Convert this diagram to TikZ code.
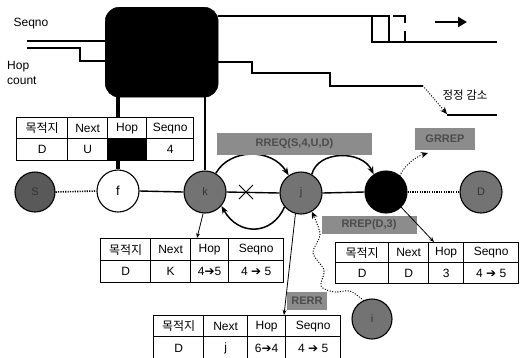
\documentclass[tikz,border=0pt]{standalone}
\usepackage{fontspec}
\setmainfont{Liberation Sans}
\newfontfamily\krfont{Noto Sans CJK KR}
\newfontfamily\djfont{DejaVu Sans}
\usetikzlibrary{arrows.meta}
\newcommand\harr{{\djfont\char"2794}}
\begin{document}
\begin{tikzpicture}[x=1pt,y=-1pt,
  sig/.style={line width=1.3pt},
  vline/.style={line width=3.2pt},
  mainl/.style={line width=1.4pt},
  dotl/.style={line width=1.6pt, dash pattern=on 1.2pt off 1.2pt},
  dots/.style={line width=1.4pt, line cap=round, dash pattern=on 0pt off 2.6pt},
  thinarr/.style={line width=0.8pt, -{Stealth[length=5pt,width=4pt]}},
  arcl/.style={line width=1.5pt, -{Stealth[length=8pt,width=6pt]}},
  cell/.style={draw, line width=1.3pt, anchor=north west, inner sep=0pt,
    minimum height=21pt, font=\fontsize{12}{13}\selectfont},
  gnode/.style={circle, draw, line width=1.1pt, fill=black!55, minimum size=42pt,
    inner sep=0pt, text=black!80, font=\fontsize{11}{12}\selectfont},
  gbox/.style={fill=black!45, text=black!70, inner sep=0pt,
    font=\bfseries\fontsize{11}{12}\selectfont},
  txt/.style={inner sep=0pt, font=\fontsize{12}{13}\selectfont}
]
\useasboundingbox (0,0) rectangle (521,357);
\clip (0,0) rectangle (521,357);

% texts on the left
\node[txt] (tseq) at (31,24) {Seqno};
\node[txt, anchor=west] (thop) at (7,67) {Hop};
\node[txt, anchor=west] (tcnt) at (7,81) {count};

% big black box
\node[draw, fill=black, rounded corners=14pt, minimum width=113pt, minimum height=90pt,
  anchor=north west, inner sep=0pt] (box) at (105,7) {};

% input signals
\coordinate (sq0) at (27,41);
\draw[sig] (sq0) -- (sq0 -| box.west);
\coordinate (hp0) at (27,48);
\coordinate (hp1) at (80,61);
\draw[sig] (hp0) -- (80,48) -- (hp1) -- (hp1 -| box.west);

% output seqno signal with pulse
\coordinate (sq1) at (389,16);
\draw[sig] (sq1 -| box.east) -- (sq1) -- (389,42);
\draw[sig] (372,16) -- (372,42) -- (497,42);
\draw[sig] (393,16) -- (405,16) -- (405,23);
\draw[sig] (405,31) -- (405,42);
\coordinate (ar0) at (435,22);
\coordinate (ar1) at (467,22);
\draw[line width=2.4pt, -{Triangle[length=9pt,width=10pt]}] (ar0) -- (ar1);

% output hop signal
\coordinate (hr0) at (252,62);
\coordinate (hr1) at (423,86);
\coordinate (hr2) at (447,114);
\coordinate (hr3) at (497,115);
\draw[sig] (hr0 -| box.east) -- (hr0) -- (252,73) -- (330,73) -- (330,86) -- (hr1);
\draw[dots, -{Stealth[length=7pt,width=6pt]}] (hr1) -- (hr2);
\draw[sig] (447,115) -- (hr3);
\node[txt, font=\krfont\fontsize{11.5}{13}\selectfont] (tdec) at (465,95) {정정 감소};

% table 1
\node[cell, minimum width=51pt] (t1a) at (16,117) {\krfont 목적지};
\node[cell, minimum width=40pt] (t1b) at (67,117) {Next};
\node[cell, minimum width=39pt] (t1c) at (107,117) {Hop};
\node[cell, minimum width=47pt] (t1d) at (146,117) {Seqno};
\node[cell, minimum width=51pt, minimum height=22pt] (t1e) at (16,138) {D};
\node[cell, minimum width=40pt, minimum height=22pt] (t1f) at (67,138) {U};
\node[cell, minimum width=39pt, minimum height=22pt, fill=black] (t1g) at (107,138) {};
\node[cell, minimum width=47pt, minimum height=22pt] (t1h) at (146,138) {4};

% nodes
\node[gnode, fill=black!65, minimum size=40pt] (S) at (35,192) {S};
\node[gnode, fill=white, text=black, font=\fontsize{13}{14}\selectfont] (f) at (118,191) {f};
\node[gnode] (k) at (205,192) {k};
\node[gnode] (j) at (301,193) {j};
\node[gnode, fill=black, text=black] (blk) at (386,192) {};
\node[gnode] (D) at (481,192) {D};
\node[gnode, minimum size=40pt] (i) at (372,319) {i};

% verticals from box
\draw[vline] (box.south -| f.north) -- (t1c.north -| f.north);
\draw[vline] (t1g.south -| f.north) -- (f.north);
\draw[line width=2.6pt] (box.south -| k.north) -- (k.north);

% main line
\draw[dotl] (S.east) -- (f.west);
\draw[mainl] (f.east) -- (k.west);
\draw[mainl] (k.east) -- (j.west);
\draw[mainl] (j.east) -- (blk.west);
\draw[dotl] (blk.east) -- (D.west);
\coordinate (xm) at (246,192);
\draw[line width=1pt] ([shift={(-7,-7)}]xm) -- ([shift={(7,7)}]xm);
\draw[line width=1pt] ([shift={(-7,7)}]xm) -- ([shift={(7,-7)}]xm);

% arcs
\draw[arcl] (k.60) .. controls (230,148) and (272,148) .. (j.125);
\draw[arcl] (j.60) .. controls (318,150) and (362,150) .. (blk.125);
\draw[arcl] (j.220) .. controls (272,236) and (238,236) .. (k.320);

% gray labels
\node[gbox, minimum width=155pt, minimum height=22pt] (rreq) at (294.5,144) {RREQ(S,4,U,D)};
\node[gbox, minimum width=60pt, minimum height=22pt] (grrep) at (445,139) {GRREP};
\node[gbox, minimum width=95pt, minimum height=18pt] (rrep) at (369,225) {RREP(D,3)};
\node[gbox, minimum width=40pt, minimum height=18pt] (rerr) at (307,301) {RERR};

% K table
\node[cell, minimum width=50pt, minimum height=22pt] (kta) at (100,238) {\krfont 목적지};
\node[cell, minimum width=40pt, minimum height=22pt] (ktb) at (150,238) {Next};
\node[cell, minimum width=38pt, minimum height=22pt] (ktc) at (190,238) {Hop};
\node[cell, minimum width=55pt, minimum height=22pt] (ktd) at (228,238) {Seqno};
\node[cell, minimum width=50pt, minimum height=22pt] (kte) at (100,260) {D};
\node[cell, minimum width=40pt, minimum height=22pt] (ktf) at (150,260) {K};
\node[cell, minimum width=38pt, minimum height=22pt] (ktg) at (190,260) {4\harr5};
\node[cell, minimum width=55pt, minimum height=22pt] (kth) at (228,260) {4 \harr\ 5};

% right table
\node[cell, minimum width=53pt, minimum height=20pt] (rta) at (335,242) {\krfont 목적지};
\node[cell, minimum width=40pt, minimum height=20pt] (rtb) at (388,242) {Next};
\node[cell, minimum width=35pt, minimum height=20pt] (rtc) at (428,242) {Hop};
\node[cell, minimum width=55pt, minimum height=20pt] (rtd) at (463,242) {Seqno};
\node[cell, minimum width=53pt, minimum height=21pt] (rte) at (335,262) {D};
\node[cell, minimum width=40pt, minimum height=21pt] (rtf) at (388,262) {D};
\node[cell, minimum width=35pt, minimum height=21pt] (rtg) at (428,262) {3};
\node[cell, minimum width=55pt, minimum height=21pt] (rth) at (463,262) {4 \harr\ 5};

% j table
\node[cell, minimum width=50pt, minimum height=21pt] (jta) at (153,315) {\krfont 목적지};
\node[cell, minimum width=44pt, minimum height=21pt] (jtb) at (203,315) {Next};
\node[cell, minimum width=38pt, minimum height=21pt] (jtc) at (247,315) {Hop};
\node[cell, minimum width=55pt, minimum height=21pt] (jtd) at (285,315) {Seqno};
\node[cell, minimum width=50pt, minimum height=24pt] (jte) at (153,336) {D};
\node[cell, minimum width=44pt, minimum height=24pt] (jtf) at (203,336) {j};
\node[cell, minimum width=38pt, minimum height=24pt] (jtg) at (247,336) {6\harr4};
\node[cell, minimum width=55pt, minimum height=24pt] (jth) at (285,336) {4 \harr\ 5};

% thin arrows to tables
\coordinate (kin) at (197,238);
\draw[thinarr] (k.265) -- (kin);
\coordinate (jin) at (284,315);
\draw[thinarr] (j.255) -- (jin);
\coordinate (rin) at (434,242);
\draw[thinarr] (blk.315) -- (rin);

% dotted arrows
\coordinate (gin) at (428,153);
\draw[dots, -{Stealth[length=7pt,width=6pt]}] (blk.50) .. controls (405,165) and (415,157) .. (gin);
\draw[dots, -{Stealth[length=7pt,width=6pt]}] plot[smooth] coordinates
  {(i.115) (350,291) (334,292) (321,286) (324,270) (313,253) (320,234) (j.300)};
\end{tikzpicture}
\end{document}
